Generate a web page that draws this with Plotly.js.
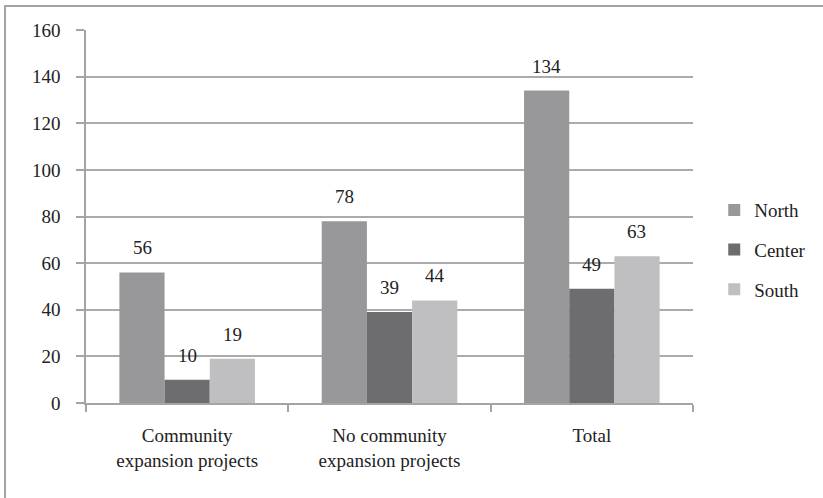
<!DOCTYPE html>
<html>
<head>
<meta charset="utf-8">
<script src="https://cdn.plot.ly/plotly-3.0.1.min.js"></script>
</head>
<body style="margin:0">
<div id="chart" style="width:823px;height:498px"></div>
<div id="frame" style="position:absolute;left:4px;top:5px;width:819px;height:493px;border-left:2px solid #a4a4a6;border-top:2px solid #a4a4a6;box-sizing:border-box;pointer-events:none"></div>
<script>
// Projects by region
const categories = ["Community<br>expansion projects", "No community<br>expansion projects", "Total"];
const regions = ["North", "Center", "South"];
const north = [56, 78, 134];
const center = [10, 39, 49];
const south = [19, 44, 63];
const yTicks = [0, 20, 40, 60, 80, 100, 120, 140, 160];

const series = [north, center, south];
const colors = ["#98989a", "#6d6d6f", "#bfbfc1"];
const textColor = "#222222";
const fontName = "Times New Roman";

const traces = series.map((vals, i) => ({
  type: "bar",
  name: regions[i],
  legendgroup: regions[i],
  x: categories,
  y: vals,
  marker: { color: colors[i] }
}));

// value labels above each bar, shifted sideways to sit over its bar in the group
const barPx = 45;
const annotations = [];
series.forEach((vals, i) => {
  vals.forEach((v, j) => {
    annotations.push({
      x: categories[j], y: v, xref: "x", yref: "y",
      text: String(v), showarrow: false,
      xanchor: "center", yanchor: "bottom",
      xshift: (i - 1) * barPx, yshift: 12,
      font: { family: fontName, size: 19, color: textColor }
    });
  });
});

Plotly.newPlot("chart", traces, {
  width: 823, height: 498,
  margin: { l: 86, r: 130, t: 30, b: 95 },
  barmode: "group",
  bargap: 0.33,
  bargroupgap: 0,
  font: { family: fontName, size: 18, color: textColor },
  xaxis: {
    type: "category",
    showline: true, linecolor: "#a4a4a6", linewidth: 2,
    ticks: "outside", tickson: "boundaries", ticklen: 7, tickcolor: "#a4a4a6", tickwidth: 1.5,
    ticklabelstandoff: 14,
    tickfont: { family: fontName, size: 19, color: textColor },
    showgrid: false, zeroline: false
  },
  yaxis: {
    range: [0, 160],
    tickvals: yTicks,
    ticktext: yTicks.map(String),
    showline: true, linecolor: "#a4a4a6", linewidth: 1.5,
    ticks: "outside", ticklen: 8, tickcolor: "#a4a4a6", tickwidth: 1.5,
    ticklabelstandoff: 12,
    tickfont: { family: fontName, size: 19, color: textColor },
    showgrid: true, gridcolor: "#ababad", gridwidth: 1.5,
    zeroline: false
  },
  legend: {
    x: 1.035, xanchor: "left",
    y: 0.41, yanchor: "middle",
    tracegroupgap: 12,
    font: { family: fontName, size: 19, color: textColor }
  },
  annotations: annotations
}, { displayModeBar: false });
</script>
</body>
</html>
